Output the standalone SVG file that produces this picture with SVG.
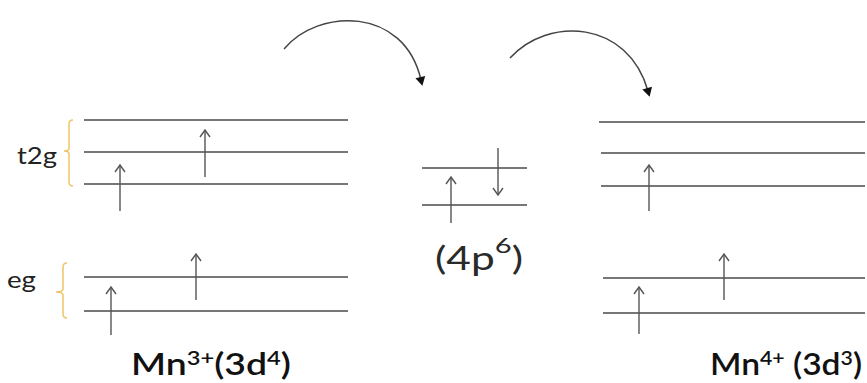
<svg xmlns="http://www.w3.org/2000/svg" width="867" height="383" viewBox="0 0 867 383">
<style>
.lvl{stroke:#4a4a4a;stroke-width:1.5;fill:none}
.spin{stroke:#555;stroke-width:1.4;fill:none;marker-end:url(#chev)}
.brk{stroke:#f0c46a;stroke-width:1.5;fill:none}
.curve{stroke:#444;stroke-width:1.5;fill:none;marker-end:url(#tri)}
.lbl{font-family:Lato,"Open Sans","Liberation Sans",sans-serif;fill:#222}
.ion{font-family:Lato,"Open Sans","Liberation Sans",sans-serif;font-weight:600;font-size:30px;fill:#111}
.sup{font-size:19px}
</style>
<defs>
<marker id="chev" markerUnits="userSpaceOnUse" markerWidth="12" markerHeight="14" viewBox="-9 -7 12 14" refX="0" refY="0" orient="auto">
<path d="M-7,-5 L0,0 L-7,5" stroke="#555" stroke-width="1.4" fill="none"/>
</marker>
<marker id="tri" markerUnits="userSpaceOnUse" markerWidth="12" markerHeight="12" viewBox="-6 -6 12 12" refX="0" refY="0" orient="auto">
<path d="M-3,-5 L6,0 L-3,5 Z" fill="#111"/>
</marker>
</defs>

<g id="connectors">
<path class="curve" d="M284,49 C318,8 404,6 421,80"/>
<path class="curve" d="M510,58 C548,16 628,20 648,91"/>
</g>

<g id="mn3">
<g id="mn3-t2g">
<line class="lvl" x1="84" y1="120" x2="348" y2="120"/>
<line class="lvl" x1="84" y1="152" x2="348" y2="152"/>
<line class="lvl" x1="84" y1="184" x2="348" y2="184"/>
<line class="spin" x1="120" y1="211" x2="120" y2="165"/>
<line class="spin" x1="205" y1="177" x2="205" y2="130"/>
<path class="brk" d="M73,120 Q69,120 69,124 L69,148 Q69,151 64,151 Q69,151 69,154 L69,182 Q69,186 73,186"/>
<text class="lbl" x="17" y="164" font-size="23" textLength="40" lengthAdjust="spacingAndGlyphs">t2g</text>
</g>
<g id="mn3-eg">
<line class="lvl" x1="84" y1="277" x2="348" y2="277"/>
<line class="lvl" x1="84" y1="311" x2="348" y2="311"/>
<line class="spin" x1="111" y1="335" x2="111" y2="287"/>
<line class="spin" x1="196" y1="300" x2="196" y2="254"/>
<path class="brk" d="M67,263 Q63,263 63,267 L63,289 Q63,292 56,292 Q63,292 63,295 L63,314 Q63,318 67,318"/>
<text class="lbl" x="7" y="288" font-size="24" textLength="29" lengthAdjust="spacingAndGlyphs">eg</text>
</g>
<text class="ion" x="131" y="375" textLength="160" lengthAdjust="spacingAndGlyphs">Mn<tspan class="sup" dy="-10">3+</tspan><tspan dy="10">(3d</tspan><tspan class="sup" dy="-10">4</tspan><tspan dy="10">)</tspan></text>
</g>

<g id="p4">
<line class="lvl" x1="422" y1="168" x2="527" y2="168"/>
<line class="lvl" x1="422" y1="205" x2="527" y2="205"/>
<line class="spin" x1="451" y1="223" x2="451" y2="177"/>
<line class="spin" x1="498" y1="148" x2="498" y2="195"/>
<text x="435" y="270" font-family="Lato,'Open Sans','Liberation Sans',sans-serif" font-weight="400" font-size="32" fill="#2a2a2a" textLength="88" lengthAdjust="spacingAndGlyphs">(4p<tspan font-size="22" dy="-17">6</tspan><tspan dy="17">)</tspan></text>
</g>

<g id="mn4">
<line class="lvl" x1="599" y1="122" x2="865" y2="122"/>
<line class="lvl" x1="601" y1="153" x2="865" y2="153"/>
<line class="lvl" x1="601" y1="186" x2="865" y2="186"/>
<line class="spin" x1="649" y1="211" x2="649" y2="165"/>
<line class="lvl" x1="603" y1="278" x2="865" y2="278"/>
<line class="lvl" x1="603" y1="313" x2="865" y2="313"/>
<line class="spin" x1="639" y1="334" x2="639" y2="287"/>
<line class="spin" x1="724" y1="300" x2="724" y2="254"/>
<text class="ion" x="710" y="375" textLength="152" lengthAdjust="spacingAndGlyphs">Mn<tspan class="sup" dy="-10">4+</tspan><tspan dy="10"> (3d</tspan><tspan class="sup" dy="-10">3</tspan><tspan dy="10">)</tspan></text>
</g>
</svg>
